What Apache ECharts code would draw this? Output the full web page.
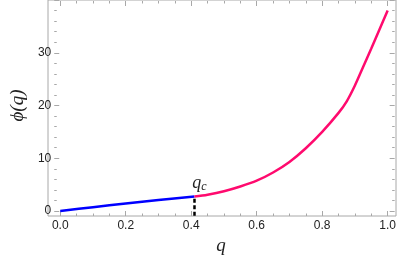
<!DOCTYPE html>
<html><head><meta charset="utf-8">
<script src="https://cdn.jsdelivr.net/npm/echarts@6/dist/echarts.min.js"></script>
<style>html,body{margin:0;padding:0;background:#fff}#c{width:399px;height:267px}</style>
</head><body><div id="c"></div>
<script>
// data
const blueQ = [0, 0.1, 0.2, 0.3, 0.41];
const blueY = [0, 0.72, 1.42, 2.1, 2.75];
const pinkQ = [0.41, 0.45, 0.5, 0.55, 0.6, 0.65, 0.7, 0.75, 0.8, 0.85, 0.875, 0.9, 0.925, 0.95, 0.975, 1.0];
const pinkY = [2.75, 3.1, 3.75, 4.65, 5.75, 7.3, 9.3, 11.9, 15.0, 18.6, 20.8, 23.8, 27.3, 30.8, 34.4, 38.0];
const qc = 0.41;
const qcY = [-0.9, 2.75];
const xTicks = [0, 0.2, 0.4, 0.6, 0.8, 1.0];
const yTicks = [0, 10, 20, 30];

const zip = (a, b) => a.map((v, i) => [v, b[i]]);
const frameColor = '#a8a8a8';
const tickStyle = { show: true, inside: true, length: 5, lineStyle: { color: frameColor, width: 1 } };
const minorStyle = { show: true, length: 2.5, lineStyle: { color: frameColor, width: 1 } };
const labelFont = { fontFamily: 'Liberation Sans', fontSize: 12, color: '#222' };
const hiddenLine = { show: false, onZero: false };
const serifItalic = { fontFamily: 'Liberation Serif', fontStyle: 'italic', color: '#222' };

const chart = echarts.init(document.getElementById('c'), null, { renderer: 'canvas' });
chart.setOption({
  animation: false,
  grid: [
    { left: 54, right: 10, top: -1, bottom: 56 },
    { left: 48, right: 3, top: 0, bottom: 51, show: true, borderColor: frameColor, borderWidth: 1, backgroundColor: 'transparent' }
  ],
  xAxis: [
    { type: 'value', gridIndex: 0, min: 0, max: 1, interval: 0.2, position: 'bottom', offset: 5,
      axisLine: hiddenLine, axisTick: tickStyle, minorTick: Object.assign({ splitNumber: 4 }, minorStyle),
      splitLine: { show: false },
      axisLabel: Object.assign({ margin: 4, formatter: v => xTicks.some(t => Math.abs(t - v) < 1e-9) ? v.toFixed(1) : '' }, labelFont),
      name: 'q', nameLocation: 'middle', nameGap: 20,
      nameTextStyle: Object.assign({ fontSize: 19, padding: [0, 6, 0, 0] }, serifItalic) },
    { type: 'value', gridIndex: 0, min: 0, max: 1, interval: 0.2, position: 'top', offset: -1,
      axisLine: hiddenLine, axisTick: tickStyle, minorTick: Object.assign({ splitNumber: 4 }, minorStyle),
      splitLine: { show: false }, axisLabel: { show: false } },
    { type: 'value', gridIndex: 1, show: false, min: 0, max: 1 }
  ],
  yAxis: [
    { type: 'value', gridIndex: 0, min: 0, max: 40, interval: 10, position: 'left', offset: 6,
      axisLine: hiddenLine, axisTick: tickStyle, minorTick: Object.assign({ splitNumber: 5 }, minorStyle),
      splitLine: { show: false },
      axisLabel: Object.assign({ margin: 3, formatter: v => yTicks.indexOf(v) >= 0 ? String(v) : '' }, labelFont),
      name: 'ϕ(q)', nameLocation: 'middle', nameGap: 24, nameRotate: 90,
      nameTextStyle: Object.assign({ fontSize: 19 }, serifItalic) },
    { type: 'value', gridIndex: 0, min: 0, max: 40, interval: 10, position: 'right', offset: 7,
      axisLine: hiddenLine, axisTick: tickStyle, minorTick: Object.assign({ splitNumber: 5 }, minorStyle),
      splitLine: { show: false }, axisLabel: { show: false } },
    { type: 'value', gridIndex: 1, show: false, min: 0, max: 1 }
  ],
  series: [
    { type: 'line', xAxisIndex: 0, yAxisIndex: 0, data: zip(blueQ, blueY), showSymbol: false, smooth: 0.3,
      lineStyle: { color: '#0000ff', width: 2.5 }, clip: false, z: 3 },
    { type: 'line', xAxisIndex: 0, yAxisIndex: 0, data: zip(pinkQ, pinkY), showSymbol: false, smooth: 0.3,
      lineStyle: { color: '#ff0a6e', width: 2.5 }, clip: false, z: 3 },
    { type: 'line', xAxisIndex: 0, yAxisIndex: 0, clip: false, z: 4,
      lineStyle: { color: '#000', width: 2.5, type: [4, 2.5] },
      symbol: 'circle', symbolSize: 1, showSymbol: true, itemStyle: { color: 'transparent' },
      data: qcY.map((v, i) => i === qcY.length - 1 ? {
        value: [qc, v],
        label: { show: true, position: 'top', distance: 3, offset: [5, 0],
          formatter: '{q|q}{c|c}',
          rich: { q: Object.assign({ fontSize: 18 }, serifItalic),
                  c: Object.assign({ fontSize: 12, padding: [8, 0, 0, 0] }, serifItalic) } }
      } : { value: [qc, v] }) }
  ]
});
</script></body></html>
